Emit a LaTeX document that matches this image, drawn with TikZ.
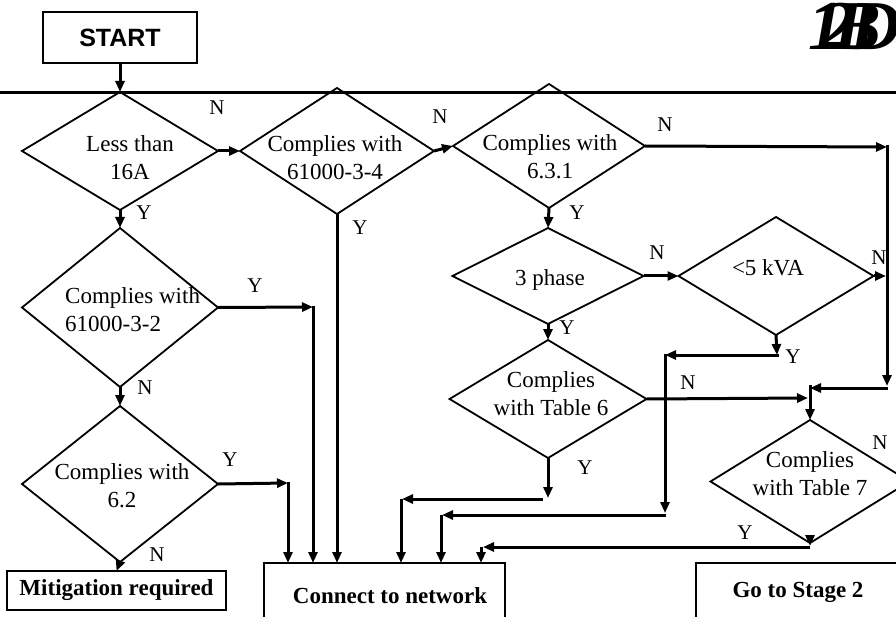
\documentclass[tikz,border=0pt]{standalone}
\usepackage{fontspec}
\setmainfont{Liberation Serif}
\newfontfamily\arialfont{Liberation Sans}
\usetikzlibrary{arrows.meta,shapes.geometric}
\begin{document}
\begin{tikzpicture}[x=1pt,y=-1pt,
  dia/.style={draw,diamond,line width=1.8pt,inner sep=0pt,outer sep=0pt},
  box/.style={draw,rectangle,line width=1.8pt,inner sep=0pt,outer sep=0pt},
  arr/.style={line width=3pt,-{Triangle[length=11pt,width=9pt]}},
  plain/.style={line width=3pt},
  txt/.style={font=\fontsize{23}{28}\selectfont,align=center,inner sep=0pt},
  ltxt/.style={font=\fontsize{23}{28}\selectfont,align=left,inner sep=0pt,anchor=west},
  lab/.style={font=\fontsize{21}{21}\selectfont,inner sep=0pt},
  btxt/.style={font=\fontsize{23}{28}\selectfont\bfseries,inner sep=0pt}
]
\useasboundingbox (0,0) rectangle (896,617);
\clip (0,0) rectangle (896,617);

% top rule
\coordinate (rl) at (0,93);
\coordinate (rr) at (896,93);
\draw[plain] (rl) -- (rr);

% blob (illegible overprinted characters)
\node[font=\fontsize{70}{70}\selectfont\bfseries\itshape,inner sep=0pt,anchor=base west] (blob) at (808,50)
  {1\kern-22pt 2\kern-22pt B\kern-30pt D};

% start
\node[box,minimum width=154pt,minimum height=51pt,font=\arialfont\fontsize{25}{25}\selectfont\bfseries] (start) at (120,37.5) {START};

% diamonds
\node[dia,minimum width=196pt,minimum height=118pt] (d1) at (120,151) {};
\node[dia,minimum width=194pt,minimum height=126pt] (d2) at (337,151) {};
\node[dia,minimum width=192pt,minimum height=124pt] (d3) at (549,146) {};
\node[dia,minimum width=191pt,minimum height=96pt] (d4) at (548,276) {};
\node[dia,minimum width=195pt,minimum height=118pt] (d5) at (776,276) {};
\node[dia,minimum width=197pt,minimum height=118pt] (d6) at (548,399) {};
\node[dia,minimum width=199pt,minimum height=123pt] (d7) at (810,481.5) {};
\node[dia,minimum width=196pt,minimum height=159pt] (d1b) at (120,307.5) {};
\node[dia,minimum width=196pt,minimum height=156pt] (d1c) at (120,484) {};

% diamond texts
\node[txt] (t1) at (130,158) {Less than\\16A};
\node[txt] (t2) at (335,158) {Complies with\\61000-3-4};
\node[txt] (t3) at (550,157) {Complies with\\6.3.1};
\node[txt] (t4) at (550,280) {3 phase};
\node[txt] (t5) at (768,268) {<5 kVA};
\node[txt] (t6) at (551,393.5) {Complies\\with Table 6};
\node[txt] (t7) at (810,474) {Complies\\with Table 7};
\node[ltxt] (t1b) at (65,310) {Complies with\\61000-3-2};
\node[txt] (t1c) at (122,486) {Complies with\\6.2};

% end boxes
\node[box,minimum width=219pt,minimum height=39pt,font=\fontsize{23}{28}\selectfont\bfseries] (mit) at (116.5,590.5) {Mitigation required};
\node[box,minimum width=241pt,minimum height=77pt] (conn) at (384.5,601.5) {};
\node[btxt] (conntxt) at (390,596) {Connect to network};
\node[box,minimum width=230pt,minimum height=77pt] (stage) at (811,601.5) {};
\node[btxt] (stagetxt) at (798,592) {Go to Stage 2};

% coordinates
\coordinate (a3) at (887,147);
\coordinate (a3top) at (887,145.5);
\coordinate (a3b) at (887,386);
\coordinate (a3c) at (888,388);
\coordinate (a3d) at (810,388);
\coordinate (a3e) at (810,385);
\coordinate (a5) at (886,276);
\coordinate (a6n) at (808,398);
\coordinate (y5a) at (777,355);
\coordinate (y5s) at (778.5,355);
\coordinate (y5b) at (665,355);
\coordinate (y5c) at (665,354);
\coordinate (y5d) at (665,513);
\coordinate (y5e) at (666,515);
\coordinate (y5f) at (442,515);
\coordinate (y5g) at (441,515);
\coordinate (y6a) at (548,498);
\coordinate (y6b) at (543,499);
\coordinate (y6c) at (402,499);
\coordinate (y6d) at (401,499);
\coordinate (y7a) at (810,546);
\coordinate (y7b) at (810,547);
\coordinate (y7c) at (483,547);
\coordinate (y7d) at (481,547);
\coordinate (yb) at (313,307);
\coordinate (ybb) at (313,306);
\coordinate (yc) at (288,483);
\coordinate (ycc) at (288,482);

% connectors
\draw[arr] (start.south) -- (d1.north);
\draw[arr] (d1.east) -- (d2.west);
\draw[arr] (d2.east) -- (d3.west);
\draw[arr] (d3.east) -- (a3);
\draw[arr] (a3top) -- (a3b);
\draw[arr] (a3c) -- (a3d);
\draw[arr] (a3e) -- (d7.north);
\draw[arr] (d6.east) -- (a6n);
\draw[arr] (d1.south) -- (d1b.north);
\draw[arr] (d2.south) -- (d2.south |- conn.north);
\draw[arr] (d3.south) -- (d4.north);
\draw[arr] (d4.east) -- (d5.west);
\draw[arr] (d5.east) -- (a5);
\draw[arr] (d5.south) -- (y5a);
\draw[arr] (y5s) -- (y5b);
\draw[arr] (y5c) -- (y5d);
\draw[arr] (y5e) -- (y5f);
\draw[arr] (y5g) -- (y5g |- conn.north);
\draw[arr] (d4.south) -- (d6.north);
\draw[arr] (d6.south) -- (y6a);
\draw[arr] (y6b) -- (y6c);
\draw[arr] (y6d) -- (y6d |- conn.north);
\draw[arr] (d7.south) -- (y7a);
\draw[arr] (y7b) -- (y7c);
\draw[arr] (y7d) -- (y7d |- conn.north);
\draw[arr] (d1b.east) -- (yb);
\draw[arr] (ybb) -- (ybb |- conn.north);
\draw[arr] (d1b.south) -- (d1c.north);
\draw[arr] (d1c.east) -- (yc);
\draw[arr] (ycc) -- (ycc |- conn.north);
\draw[arr] (d1c.south) -- (mit.north);

% labels
\node[lab] (l1) at (217,108) {N};
\node[lab] (l2) at (440,117) {N};
\node[lab] (l3) at (665,125) {N};
\node[lab] (l4) at (144,213) {Y};
\node[lab] (l5) at (360,228) {Y};
\node[lab] (l6) at (577,213) {Y};
\node[lab] (l7) at (657,253) {N};
\node[lab] (l8) at (879,258) {N};
\node[lab] (l9) at (793,357) {Y};
\node[lab] (l10) at (567,328) {Y};
\node[lab] (l11) at (688,383) {N};
\node[lab] (l12) at (880,443) {N};
\node[lab] (l13) at (745,533) {Y};
\node[lab] (l14) at (585,468) {Y};
\node[lab] (l15) at (255,286) {Y};
\node[lab] (l16) at (145,388) {N};
\node[lab] (l17) at (230,460) {Y};
\node[lab] (l18) at (157,555) {N};
\end{tikzpicture}
\end{document}
